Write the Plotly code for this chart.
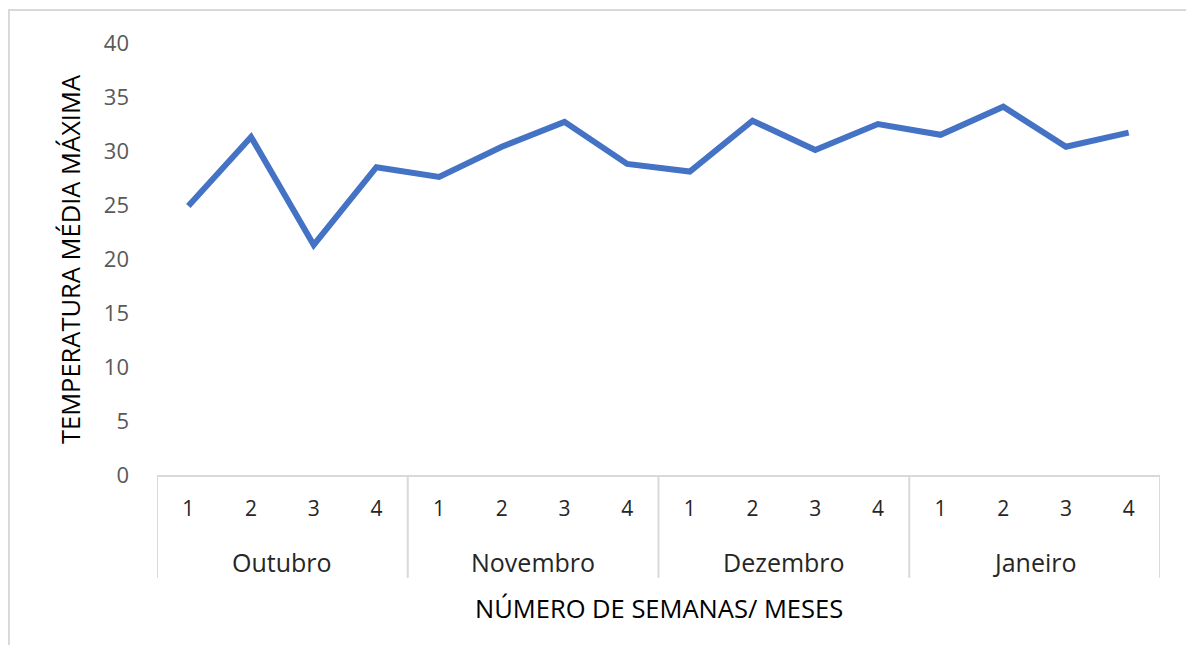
import plotly.graph_objects as go

months = ["Outubro", "Novembro", "Dezembro", "Janeiro"]
weeks = ["1", "2", "3", "4"]
temps = [24.9, 31.3, 21.3, 28.5, 27.6, 30.4, 32.7, 28.8,
         28.1, 32.8, 30.1, 32.5, 31.5, 34.1, 30.4, 31.7]
y_ticks = [0, 5, 10, 15, 20, 25, 30, 35, 40]

n = len(months) * len(weeks)
xs = list(range(n))
tick_text = weeks * len(months)

FONT = "Open Sans"
fig = go.Figure()
fig.add_trace(go.Scatter(x=xs, y=temps, mode="lines",
                         line=dict(color="#4472C4", width=6),
                         hoverinfo="skip", showlegend=False))

fig.update_layout(
    width=1186, height=637,
    margin=dict(l=149, r=34, t=35, b=170),
    plot_bgcolor="white", paper_bgcolor="white",
    font=dict(family=FONT, color="#595959", size=20),
    xaxis=dict(range=[-0.5, n - 0.5], tickvals=xs, ticktext=tick_text,
               showgrid=False, zeroline=False, showline=True,
               linecolor="#d9d9d9", linewidth=2, ticks="",
               tickfont=dict(color="#262626", size=21, family=FONT),
               ticklabelstandoff=14),
    yaxis=dict(range=[0, 40], tickvals=y_ticks, showgrid=False,
               zeroline=False, showline=False, ticks="",
               tickfont=dict(color="#595959", size=22, family=FONT),
               ticklabelstandoff=27),
)

# month separators and labels
for i in range(len(months) + 1):
    xv = i * len(weeks) - 0.5
    fig.add_shape(type="line", xref="x", yref="paper", x0=xv, x1=xv,
                  y0=0, y1=-0.238, line=dict(color="#d9d9d9", width=2))
for i, m in enumerate(months):
    fig.add_annotation(x=i * len(weeks) + 1.5, y=-0.201, xref="x", yref="paper",
                       xanchor="center", yanchor="middle",
                       text=m, showarrow=False,
                       font=dict(color="#262626", size=25, family=FONT))

# axis titles
fig.add_annotation(x=0.5, y=-0.308, xref="paper", yref="paper",
                   xanchor="center", yanchor="middle",
                   text="NÚMERO DE SEMANAS/ MESES", showarrow=False,
                   font=dict(color="#000000", size=25.5, family=FONT))
fig.add_annotation(x=-0.0867, y=0.5, xref="paper", yref="paper",
                   xanchor="center", yanchor="middle",
                   text="TEMPERATURA MÉDIA MÁXIMA", showarrow=False, textangle=-90,
                   font=dict(color="#000000", size=25.5, family=FONT))

# outer frame
fig.add_shape(type="rect", xref="paper", yref="paper",
              x0=-0.1476, x1=1.2, y0=-0.6, y1=1.0764,
              line=dict(color="#d9d9d9", width=2))

fig.write_html("out.html")
